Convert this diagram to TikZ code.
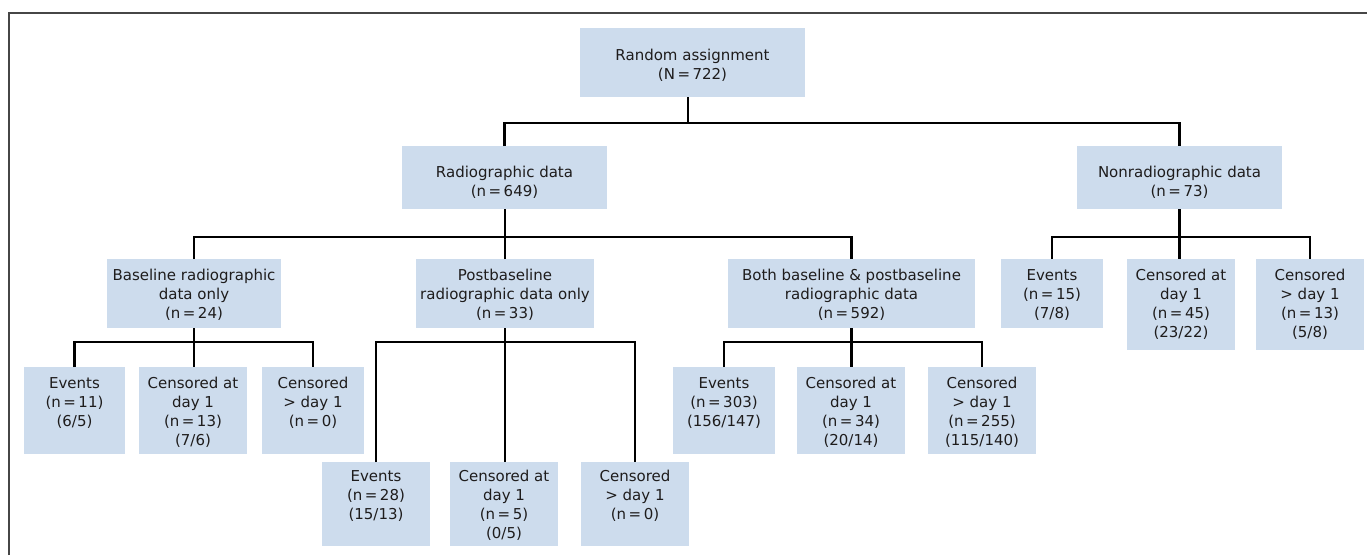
\documentclass[tikz,border=0pt]{standalone}
\usepackage{fontspec}
\setmainfont{DejaVu Sans}
\usetikzlibrary{calc}
\definecolor{boxfill}{RGB}{205,220,237}
\definecolor{txt}{RGB}{30,28,28}
\definecolor{framec}{RGB}{70,70,70}
\newcommand\bt[4]{\parbox[c][#2pt][t]{#1pt}{\centering\rule{0pt}{#3pt}#4}}
\tikzset{
  box/.style={fill=boxfill, inner sep=0pt, outer sep=0pt, text=txt,
    font=\fontsize{15}{19}\selectfont},
  conn/.style={line width=2.4pt, black, line join=miter},
}
\begin{document}
\begin{tikzpicture}[x=1pt,y=-1pt]
\useasboundingbox (0,0) rectangle (1367,555);
\draw[framec, line width=1.8pt] (9,555) -- (9,13) -- (1367,13);

\node[box] (root) at (692.5,62.5) {\bt{225}{69}{32.5}{Random assignment\\(N\,=\,722)}};
\node[box] (rad) at (504.5,177.5) {\bt{205}{63}{31.5}{Radiographic data\\(n\,=\,649)}};
\node[box] (non) at (1179.5,177.5) {\bt{205}{63}{31.5}{Nonradiographic data\\(n\,=\,73)}};

\node[box] (base) at (194,293.5) {\bt{174}{69}{21.5}{Baseline radiographic\\data only\\(n\,=\,24)}};
\node[box] (post) at (505,293.5) {\bt{178}{69}{21.5}{Postbaseline\\radiographic data only\\(n\,=\,33)}};
\node[box] (both) at (851.5,293.5) {\bt{247}{69}{21.5}{Both baseline \& postbaseline\\radiographic data\\(n\,=\,592)}};

\node[box] (nev) at (1052,293.5) {\bt{102}{69}{21.5}{Events\\(n\,=\,15)\\(7/8)}};
\node[box] (ncd) at (1181,304.5) {\bt{108}{91}{21.5}{Censored at\\day 1\\(n\,=\,45)\\(23/22)}};
\node[box] (ngt) at (1310,304.5) {\bt{108}{91}{21.5}{Censored\\> day 1\\(n\,=\,13)\\(5/8)}};

\node[box] (bev) at (74.5,410.5) {\bt{101}{87}{21.5}{Events\\(n\,=\,11)\\(6/5)}};
\node[box] (bcd) at (193,410.5) {\bt{108}{87}{21.5}{Censored at\\day 1\\(n\,=\,13)\\(7/6)}};
\node[box] (bgt) at (313,410.5) {\bt{102}{87}{21.5}{Censored\\> day 1\\(n\,=\,0)}};

\node[box] (pev) at (376,504) {\bt{108}{84}{19.5}{Events\\(n\,=\,28)\\(15/13)}};
\node[box] (pcd) at (504,504) {\bt{108}{84}{19.5}{Censored at\\day 1\\(n\,=\,5)\\(0/5)}};
\node[box] (pgt) at (635,504) {\bt{108}{84}{19.5}{Censored\\> day 1\\(n\,=\,0)}};

\node[box] (tev) at (724,410.5) {\bt{102}{87}{21.5}{Events\\(n\,=\,303)\\(156/147)}};
\node[box] (tcd) at (851,410.5) {\bt{108}{87}{21.5}{Censored at\\day 1\\(n\,=\,34)\\(20/14)}};
\node[box] (tgt) at (982,410.5) {\bt{108}{87}{21.5}{Censored\\> day 1\\(n\,=\,255)\\(115/140)}};

\coordinate (j1) at (688,123);
\coordinate (j2) at (505,237);
\coordinate (j3) at (1180,237);
\coordinate (j4) at (193,342);
\coordinate (j5) at (505,342);
\coordinate (j6) at (851,342);

\draw[conn] ($(root.south)+(-4.5,0)$) -- (j1);
\draw[conn] (rad.north) |- (j1) -| (non.north);
\draw[conn] (post.north) -- (post.north |- rad.south);
\draw[conn] (base.north) |- (j2) -| (both.north);
\draw[conn] (non.south) -- (non.south |- ncd.north);
\draw[conn] (nev.north) |- (j3) -| (ngt.north);
\draw[conn] (base.south) -- (base.south |- bcd.north);
\draw[conn] (bev.north) |- (j4) -| (bgt.north);
\draw[conn] (post.south) -- (post.south |- pcd.north);
\draw[conn] (pev.north) |- (j5) -| (pgt.north);
\draw[conn] (both.south) -- (both.south |- tcd.north);
\draw[conn] (tev.north) |- (j6) -| (tgt.north);
\end{tikzpicture}
\end{document}
